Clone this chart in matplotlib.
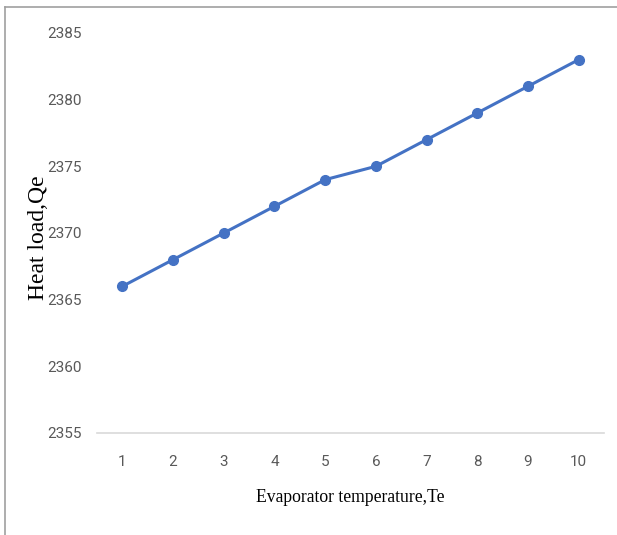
import matplotlib
matplotlib.use("Agg")
import matplotlib.pyplot as plt
from matplotlib.lines import Line2D

categories = [1, 2, 3, 4, 5, 6, 7, 8, 9, 10]
heat_load = [2366, 2368, 2370, 2372, 2374, 2375, 2377, 2379, 2381, 2383]
y_ticks = [2355, 2360, 2365, 2370, 2375, 2380, 2385]

fig = plt.figure(figsize=(6.17, 5.35), dpi=100)
ax = fig.add_axes([97/617, 1-433/535, (604-97)/617, (433-33)/535])

x = list(range(len(categories)))
ax.plot(x, heat_load, color="#4472C4", lw=2.2, marker="o", ms=7, mec="#4472C4", mfc="#4472C4")
ax.set_xlim(-0.5, len(categories)-0.5)
ax.set_ylim(2355, 2385)
ax.set_xticks(x)
ax.set_xticklabels([str(c) for c in categories])
ax.set_yticks(y_ticks)

tickfont = ["Roboto", "DejaVu Sans"]
for lab in ax.get_xticklabels() + ax.get_yticklabels():
    lab.set_family(tickfont)
    lab.set_fontsize(11)
    lab.set_color("#595959")
ax.tick_params(axis="both", length=0)
ax.tick_params(axis="x", pad=16)
ax.tick_params(axis="y", pad=11)

for s in ["top", "right", "left"]:
    ax.spines[s].set_visible(False)
ax.spines["bottom"].set_color("#D9D9D9")
ax.spines["bottom"].set_linewidth(1.2)

fig.text(350/617, 1-498/535, "Evaporator temperature,Te", family="Liberation Serif",
         fontsize=12.7, ha="center", va="center", color="black")
fig.text(38/617, 1-238/535, "Heat load,Qe", family="Liberation Serif",
         fontsize=17, ha="center", va="center", rotation=90, color="black")

# figure border lines (top and left)
fig.add_artist(Line2D([5/617, 1], [1-7/535, 1-7/535], color="#A0A0A0", lw=1.2, transform=fig.transFigure))
fig.add_artist(Line2D([5/617, 5/617], [0, 1-7/535], color="#A0A0A0", lw=1.2, transform=fig.transFigure))

fig.savefig("out.png", dpi=100)
